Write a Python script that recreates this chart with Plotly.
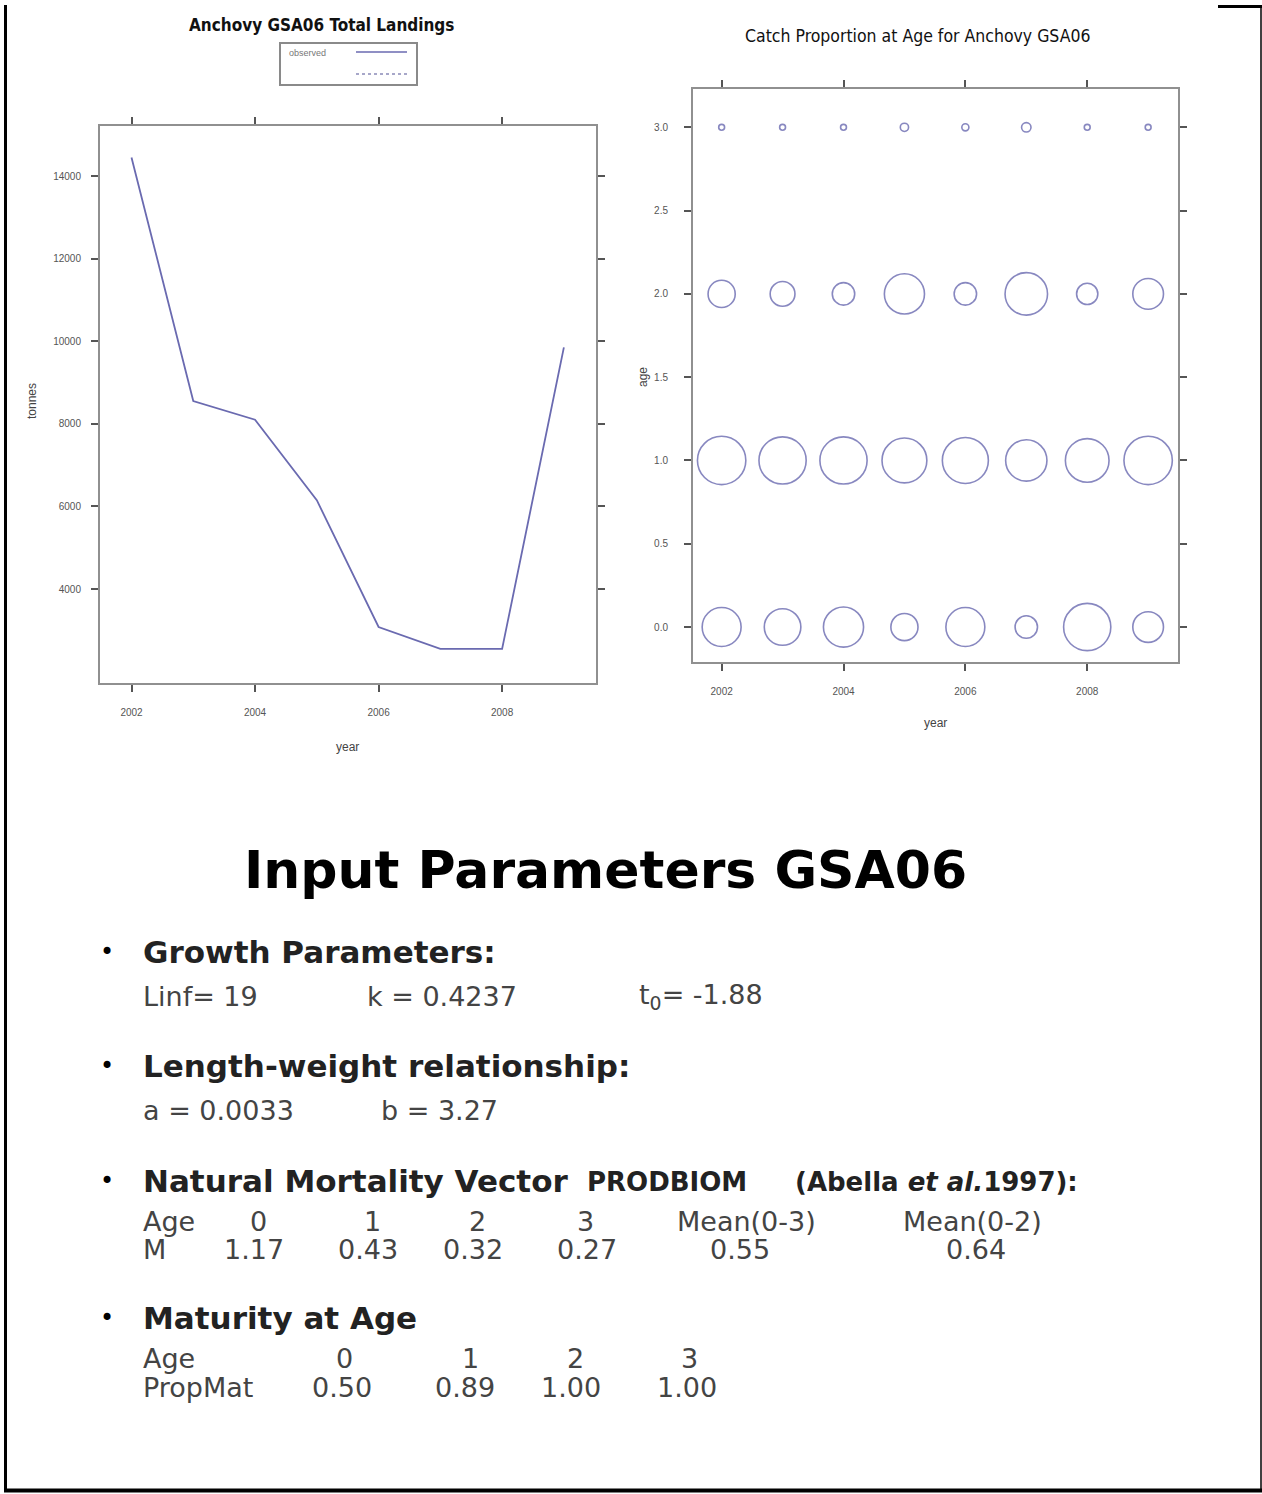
import plotly.graph_objects as go

W, H = 1262, 1494

# ---------------- data ----------------
years = [2002, 2003, 2004, 2005, 2006, 2007, 2008, 2009]
landings = [14450, 8550, 8100, 6150, 3080, 2550, 2550, 9850]

ages = [0, 1, 2, 3]
prop_age0 = [0.33, 0.31, 0.34, 0.23, 0.33, 0.19, 0.40, 0.26]
prop_age1 = [0.41, 0.40, 0.40, 0.38, 0.39, 0.35, 0.37, 0.41]
prop_age2 = [0.23, 0.21, 0.19, 0.34, 0.19, 0.36, 0.18, 0.26]
prop_age3 = [0.05, 0.05, 0.05, 0.07, 0.06, 0.08, 0.05, 0.05]

year_ticks = [2002, 2004, 2006, 2008]
tonnes_ticks = [4000, 6000, 8000, 10000, 12000, 14000]
age_ticks = [0.0, 0.5, 1.0, 1.5, 2.0, 2.5, 3.0]

growth_params = ["Linf= 19", "k = 0.4237", "t<sub>0</sub>= -1.88"]
lw_params = ["a = 0.0033", "b = 3.27"]
mort_header = ["0", "1", "2", "3", "Mean(0-3)", "Mean(0-2)"]
mort_values = ["1.17", "0.43", "0.32", "0.27", "0.55", "0.64"]
mat_header = ["0", "1", "2", "3"]
mat_values = ["0.50", "0.89", "1.00", "1.00"]


def px(x):
    return x / W


def py(y):
    return 1 - y / H


LINE_COL = "#6a6ab0"
BUB_COL = "#5656a6"
AX_COL = "#909090"
TICK_COL = "#555555"

fig = go.Figure()

fig.add_trace(go.Scatter(x=years, y=landings, mode="lines",
                         line=dict(color=LINE_COL, width=1.8),
                         xaxis="x", yaxis="y", showlegend=False))

for age, props in zip(ages, [prop_age0, prop_age1, prop_age2, prop_age3]):
    fig.add_trace(go.Scatter(
        x=years, y=[age] * len(years), mode="markers",
        marker=dict(size=props, sizemode="diameter", sizeref=1 / 118,
                    color="rgba(0,0,0,0)",
                    line=dict(color=BUB_COL, width=1.6)),
        xaxis="x2", yaxis="y2", showlegend=False))

axis_common = dict(showgrid=False, zeroline=False, showline=True,
                   linecolor=AX_COL, linewidth=2, mirror="ticks",
                   ticks="outside", ticklen=7, tickwidth=1.5,
                   tickcolor=TICK_COL,
                   tickfont=dict(family="Liberation Sans, Arial", size=10,
                                 color="#555"))

fig.update_layout(
    width=W, height=H,
    margin=dict(l=0, r=0, t=0, b=0),
    paper_bgcolor="white", plot_bgcolor="white",
    showlegend=False,
    xaxis=dict(domain=[px(100), px(596)], range=[2001.49, 2009.52],
               tickvals=year_ticks, tickformat="d", anchor="y",
               ticklabelstandoff=12, **axis_common),
    yaxis=dict(domain=[py(683), py(126)], range=[1724, 15211],
               tickvals=tonnes_ticks, tickformat="d", anchor="x",
               ticklabelstandoff=8, **axis_common),
    xaxis2=dict(domain=[px(693), px(1178)], range=[2001.53, 2009.49],
                tickvals=year_ticks, tickformat="d", anchor="y2",
                ticklabelstandoff=12, **axis_common),
    yaxis2=dict(domain=[py(662), py(89)], range=[-0.21, 3.23],
                tickvals=age_ticks, tickformat=".1f", anchor="x2",
                ticklabelstandoff=14, **axis_common),
)

ann = []


def add_text(text, x, y, size, family="DejaVu Sans", color="#222",
             xanchor="left", textangle=0):
    ann.append(dict(text=text, x=px(x), y=py(y), xref="paper", yref="paper",
                    xanchor=xanchor, yanchor="middle", showarrow=False,
                    textangle=textangle,
                    font=dict(family=family, size=size, color=color)))


NARROW = "Liberation Sans Narrow, DejaVu Sans Condensed, Arial Narrow, Liberation Sans"

# chart titles
add_text("<b>Anchovy GSA06 Total Landings</b>", 321, 25, 17, NARROW, "#111",
         "center")
add_text("Catch Proportion at Age for Anchovy GSA06", 917, 36, 17.5, NARROW,
         "#111", "center")
# axis titles
add_text("tonnes", 32, 401, 12, "Liberation Sans, Arial", "#444", "center", -90)
add_text("year", 347, 747, 12, "Liberation Sans, Arial", "#444", "center")
add_text("age", 643, 377, 12, "Liberation Sans, Arial", "#444", "center", -90)
add_text("year", 935, 723, 12, "Liberation Sans, Arial", "#444", "center")
# legend text
add_text("observed", 287, 53, 9, "Liberation Sans, Arial", "#777", "left")

# main text block
add_text("<b>Input Parameters GSA06</b>", 605, 870, 52, "DejaVu Sans", "#000",
         "center")

HEAD = 31
BODY = 27
BODY_COL = "#444"
for yb in [952, 1066, 1181, 1318]:
    add_text("•", 107, yb, 24, "DejaVu Sans", "#000", "center")

add_text("<b>Growth Parameters:</b>", 141, 952, HEAD)
for txt, x in zip(growth_params, [141, 365, 637]):
    add_text(txt, x, 996, BODY, color=BODY_COL)

add_text("<b>Length-weight relationship:</b>", 141, 1066, HEAD)
for txt, x in zip(lw_params, [141, 379]):
    add_text(txt, x, 1110, BODY, color=BODY_COL)

add_text("<b>Natural Mortality Vector</b>", 141, 1181, HEAD)
add_text("<b>PRODBIOM</b>", 585, 1182, 26)
add_text("<b>(Abella <i>et al.</i>1997):</b>", 793, 1182, 26)
add_text("Age", 141, 1221, BODY, color=BODY_COL)
for txt, x in zip(mort_header, [258, 372, 477, 585, 746, 972]):
    add_text(txt, x, 1221, BODY, color=BODY_COL, xanchor="center")
add_text("M", 141, 1249, BODY, color=BODY_COL)
for txt, x in zip(mort_values, [254, 368, 473, 587, 740, 976]):
    add_text(txt, x, 1249, BODY, color=BODY_COL, xanchor="center")

add_text("<b>Maturity at Age</b>", 141, 1318, HEAD)
add_text("Age", 141, 1358, BODY, color=BODY_COL)
for txt, x in zip(mat_header, [344, 470, 575, 689]):
    add_text(txt, x, 1358, BODY, color=BODY_COL, xanchor="center")
add_text("PropMat", 141, 1387, BODY, color=BODY_COL)
for txt, x in zip(mat_values, [342, 465, 571, 687]):
    add_text(txt, x, 1387, BODY, color=BODY_COL, xanchor="center")

fig.update_layout(annotations=ann)

shapes = [
    # legend box
    dict(type="rect", xref="paper", yref="paper", x0=px(280), x1=px(417),
         y0=py(85), y1=py(43), line=dict(color="#8a8a8a", width=2)),
    dict(type="line", xref="paper", yref="paper", x0=px(356), x1=px(407),
         y0=py(52), y1=py(52), line=dict(color=LINE_COL, width=1.5)),
    dict(type="line", xref="paper", yref="paper", x0=px(356), x1=px(407),
         y0=py(74), y1=py(74), line=dict(color="#8a8ab8", width=1.3, dash="3px,3px")),
    # page frame
    dict(type="line", xref="paper", yref="paper", x0=px(5.5), x1=px(5.5),
         y0=py(5), y1=py(1492), line=dict(color="#000", width=3)),
    dict(type="line", xref="paper", yref="paper", x0=px(4), x1=px(1262),
         y0=py(1490.5), y1=py(1490.5), line=dict(color="#000", width=4)),
    dict(type="line", xref="paper", yref="paper", x0=px(1218), x1=px(1262),
         y0=py(6.5), y1=py(6.5), line=dict(color="#000", width=3)),
    dict(type="line", xref="paper", yref="paper", x0=px(1261), x1=px(1261),
         y0=py(5), y1=py(1492), line=dict(color="#000", width=1.5)),
]
fig.update_layout(shapes=shapes)

fig.write_html("out.html")
